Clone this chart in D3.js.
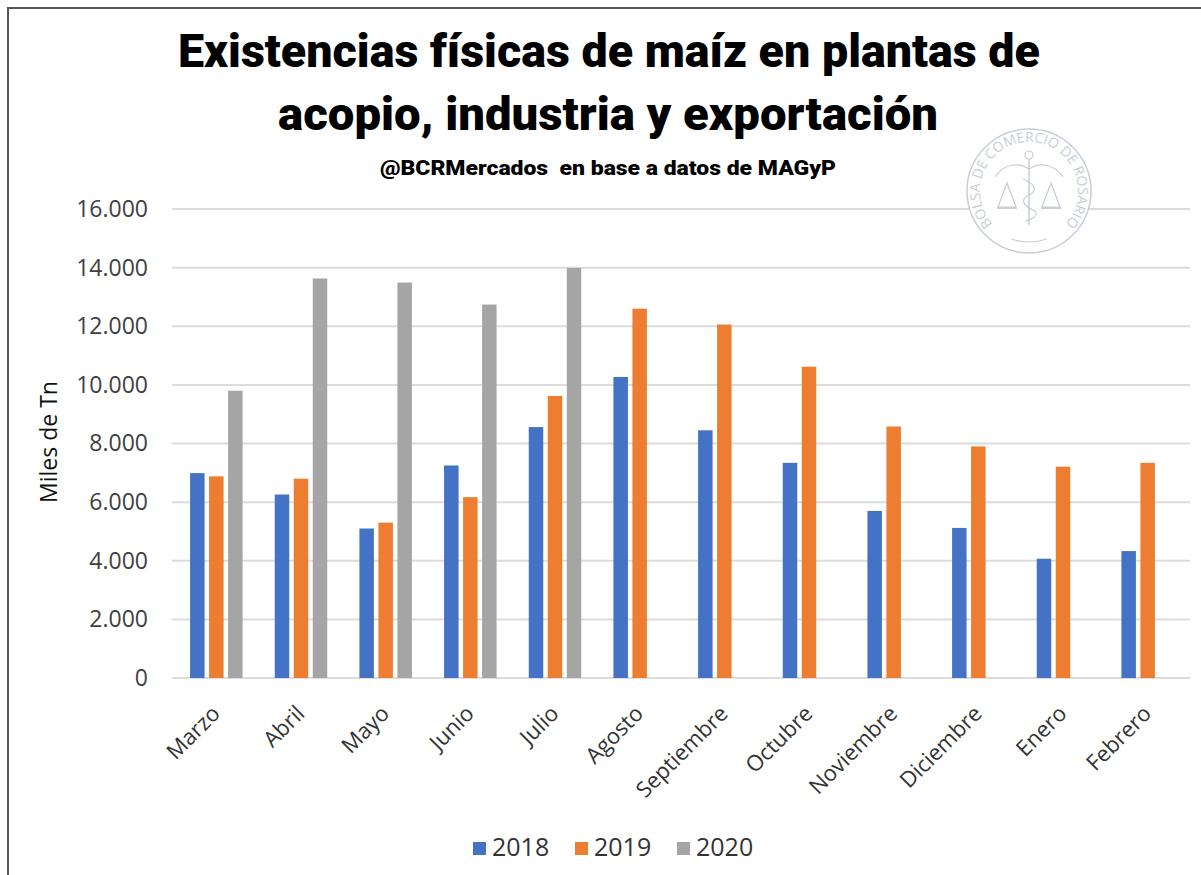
<!DOCTYPE html>
<html>
<head>
<meta charset="utf-8">
<script src="https://cdn.jsdelivr.net/npm/d3@7"></script>
<style>
  html, body { margin: 0; padding: 0; background: #fff; }
  svg { display: block; }
</style>
</head>
<body>
<svg id="chart" width="1201" height="875"></svg>
<script>
// ---------- data ----------
const months = ["Marzo","Abril","Mayo","Junio","Julio","Agosto","Septiembre","Octubre","Noviembre","Diciembre","Enero","Febrero"];
const seriesNames = ["2018","2019","2020"];
const values2018 = [6990, 6260, 5100, 7250, 8560, 10270, 8450, 7340, 5700, 5120, 4070, 4330];
const values2019 = [6880, 6800, 5300, 6170, 9620, 12600, 12060, 10620, 8580, 7900, 7210, 7340];
const values2020 = [9800, 13630, 13490, 12740, 13990, null, null, null, null, null, null, null];
const yTicks = [0, 2000, 4000, 6000, 8000, 10000, 12000, 14000, 16000];
const colors = ["#4472C4", "#ED7D31", "#A5A5A5"];

const titleLines = ["Existencias físicas de maíz en plantas de", "acopio, industria y exportación"];
const subtitle = "@BCRMercados  en base a datos de MAGyP";
const yTitle = "Miles de Tn";

const seriesValues = [values2018, values2019, values2020];

// ---------- layout ----------
const svg = d3.select("#chart");
const W = 1201, H = 875;
const plot = { left: 172, right: 1190, top: 209, bottom: 678 };
const labelFont = "'Open Sans', 'Liberation Sans', sans-serif";
const textColor = "#404040";

svg.append("rect").attr("width", W).attr("height", H).attr("fill", "#fff");

// frame
svg.append("path")
  .attr("d", `M8,${H} L8,8 L${W},8`)
  .attr("fill", "none").attr("stroke", "#555").attr("stroke-width", 2);

// scales
const x0 = d3.scaleBand().domain(months).range([174, plot.right]).paddingInner(0).paddingOuter(0);
const groupW = 52.5;
const x1 = d3.scaleBand().domain(seriesNames).range([0, groupW]).paddingInner(0.237).paddingOuter(0);
const y = d3.scaleLinear().domain([0, 16000]).range([plot.bottom, plot.top]);

// gridlines
svg.append("g").selectAll("line").data(yTicks).join("line")
  .attr("x1", plot.left).attr("x2", plot.right)
  .attr("y1", d => y(d)).attr("y2", d => y(d))
  .attr("stroke", "#dcdcdc").attr("stroke-width", 2);

// watermark seal
const seal = svg.append("g").attr("transform", "translate(1029,191)");
const sealColor = "#c9cdd8";
seal.append("circle").attr("r", 62).attr("fill", "#fff").attr("fill-opacity", 0.92)
  .attr("stroke", sealColor).attr("stroke-width", 1.5);
const arcR = 49;
seal.append("path").attr("id", "sealArc")
  .attr("d", `M${arcR * Math.cos(Math.PI * 140 / 180)},${arcR * Math.sin(Math.PI * 140 / 180)} A${arcR},${arcR} 0 1,1 ${arcR * Math.cos(Math.PI * 40 / 180)},${arcR * Math.sin(Math.PI * 40 / 180)}`)
  .attr("fill", "none");
seal.append("text")
  .attr("font-family", labelFont).attr("font-size", 14).attr("fill", sealColor)
  .append("textPath").attr("href", "#sealArc").attr("startOffset", "50%").attr("text-anchor", "middle")
  .text("BOLSA DE COMERCIO DE ROSARIO");
// bottom small arc
seal.append("path")
  .attr("d", `M-18,48 Q0,54 18,48`).attr("fill", "none").attr("stroke", sealColor).attr("stroke-width", 1.2);
// scales
[-22, 22].forEach(cx => {
  seal.append("path").attr("d", `M${cx},-8 L${cx - 9},16 L${cx + 9},16 Z`)
    .attr("fill", "none").attr("stroke", sealColor).attr("stroke-width", 1.2);
  seal.append("line").attr("x1", cx - 10).attr("x2", cx + 10).attr("y1", 17).attr("y2", 17)
    .attr("stroke", sealColor).attr("stroke-width", 2);
});
// caduceus
seal.append("line").attr("x1", 0).attr("x2", 0).attr("y1", -32).attr("y2", 34).attr("stroke", sealColor).attr("stroke-width", 1.5);
seal.append("path").attr("d", "M0,-22 C-12,-30 -26,-26 -34,-14 M0,-22 C12,-30 26,-26 34,-14")
  .attr("fill", "none").attr("stroke", sealColor).attr("stroke-width", 1.2);
seal.append("path").attr("d", "M-6,-12 C8,-6 8,0 0,4 C-8,8 -8,14 6,20 C10,24 4,28 -4,30")
  .attr("fill", "none").attr("stroke", sealColor).attr("stroke-width", 1.2);
seal.append("circle").attr("cy", -36).attr("r", 4).attr("fill", "none").attr("stroke", sealColor).attr("stroke-width", 1.2);

// bars
const groups = svg.append("g").selectAll("g").data(months).join("g")
  .attr("transform", d => `translate(${x0(d) + (x0.bandwidth() - groupW) / 2},0)`);
groups.selectAll("rect")
  .data((m, i) => seriesNames.map((s, j) => ({ s, j, v: seriesValues[j][i] })).filter(d => d.v != null))
  .join("rect")
  .attr("x", d => x1(d.s))
  .attr("width", x1.bandwidth())
  .attr("y", d => y(d.v))
  .attr("height", d => y(0) - y(d.v))
  .attr("fill", d => colors[d.j]);

// y axis
const yAxis = d3.axisLeft(y).tickValues(yTicks).tickSize(0).tickPadding(24)
  .tickFormat(d => d3.format(",")(d).replace(/,/g, "."));
const yG = svg.append("g").attr("transform", `translate(${plot.left},0)`).call(yAxis);
yG.select(".domain").remove();
yG.selectAll("text").attr("font-family", labelFont).attr("font-size", 23).attr("fill", textColor);

// x axis
const xAxis = d3.axisBottom(x0).tickSize(0).tickPadding(0);
const xG = svg.append("g").attr("transform", `translate(0,${plot.bottom})`).call(xAxis);
xG.select(".domain").remove();
xG.selectAll("text")
  .attr("font-family", labelFont).attr("font-size", 22).attr("fill", "#333")
  .attr("text-anchor", "end")
  .attr("dy", 0)
  .attr("transform", "translate(5,37) rotate(-45)");

// y title
svg.append("text")
  .attr("transform", "translate(57,442) rotate(-90)")
  .attr("text-anchor", "middle")
  .attr("font-family", labelFont).attr("font-size", 23).attr("fill", "#111")
  .text(yTitle);

// titles
const titleFont = "'Roboto', 'Liberation Sans Narrow', 'Liberation Sans', sans-serif";
svg.append("text").attr("x", 178).attr("y", 67)
  .attr("font-family", titleFont).attr("font-weight", 900).attr("font-size", 47).attr("fill", "#000")
  .attr("textLength", 862).attr("lengthAdjust", "spacingAndGlyphs")
  .text(titleLines[0]);
svg.append("text").attr("x", 278).attr("y", 130)
  .attr("font-family", titleFont).attr("font-weight", 900).attr("font-size", 47).attr("fill", "#000")
  .attr("textLength", 660).attr("lengthAdjust", "spacingAndGlyphs")
  .text(titleLines[1]);
svg.append("text").attr("x", 380).attr("y", 175)
  .attr("font-family", titleFont).attr("font-weight", 900).attr("font-size", 20).attr("fill", "#000")
  .attr("textLength", 456).attr("lengthAdjust", "spacingAndGlyphs")
  .attr("xml:space", "preserve")
  .text(subtitle);

// legend
const legendX = [473, 575, 677];
const legend = svg.append("g").selectAll("g").data(seriesNames).join("g")
  .attr("transform", (d, i) => `translate(${legendX[i]},842)`);
legend.append("rect").attr("width", 13).attr("height", 13).attr("fill", (d, i) => colors[i]);
legend.append("text").attr("x", 19).attr("y", 14)
  .attr("font-family", labelFont).attr("font-size", 25).attr("fill", "#333")
  .text(d => d);
</script>
</body>
</html>
